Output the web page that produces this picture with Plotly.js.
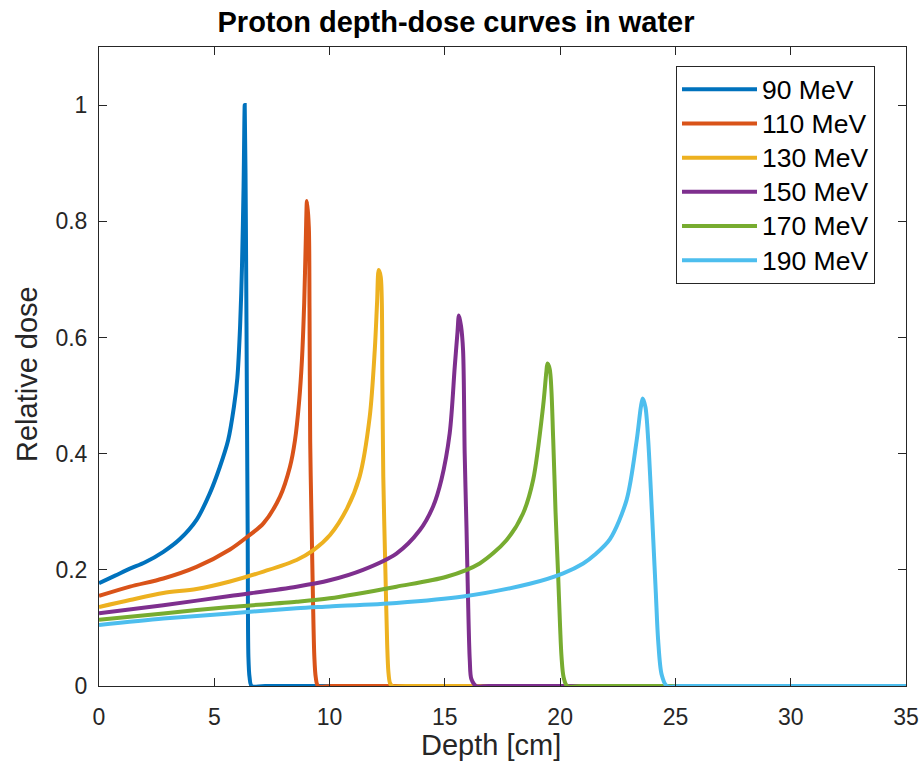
<!DOCTYPE html>
<html>
<head>
<meta charset="utf-8">
<script src="https://cdn.plot.ly/plotly-3.0.1.min.js"></script>
<style>html,body{margin:0;padding:0;background:#fff;}#chart{width:921px;height:761px;}</style>
</head>
<body>
<div id="chart"></div>
<script>
// Series names
const seriesNames = ['90 MeV', '110 MeV', '130 MeV', '150 MeV', '170 MeV', '190 MeV'];

// Depth [cm] and relative dose
const depth90 = [0, 0.7, 1.34, 2.0, 2.79, 3.51, 4.23, 4.81, 5.24, 5.6, 5.85, 6.0, 6.12, 6.2, 6.27, 6.32, 6.37, 6.42, 6.45, 6.48, 6.53, 6.62, 7.2, 35];
const dose90  = [0.177, 0.19, 0.202, 0.213, 0.231, 0.253, 0.286, 0.332, 0.377, 0.423, 0.48, 0.53, 0.62, 0.72, 0.86, 1.0, 0.8, 0.45, 0.25, 0.05, 0.015, 0, 0, 0];

const depth110 = [0, 1.34, 2.79, 4.23, 5.68, 6.47, 7.13, 7.85, 8.28, 8.5, 8.68, 8.8, 8.9, 8.97, 9.02, 9.1, 9.13, 9.16, 9.22, 9.28, 9.34, 9.4, 9.5, 10.1, 35];
const dose110  = [0.155, 0.171, 0.185, 0.205, 0.235, 0.258, 0.28, 0.326, 0.377, 0.423, 0.49, 0.56, 0.66, 0.77, 0.835, 0.79, 0.65, 0.42, 0.28, 0.15, 0.05, 0.015, 0, 0, 0];

const depth130 = [0, 1.34, 2.79, 4.23, 5.68, 7.13, 8.57, 9.3, 10.02, 10.75, 11.3, 11.74, 11.96, 12.06, 12.13, 12.22, 12.29, 12.33, 12.42, 12.5, 12.55, 12.62, 12.72, 13.3, 35];
const dose130  = [0.136, 0.148, 0.16, 0.167, 0.18, 0.197, 0.217, 0.234, 0.26, 0.305, 0.36, 0.463, 0.578, 0.66, 0.716, 0.704, 0.52, 0.36, 0.2, 0.07, 0.025, 0.005, 0, 0, 0];

const depth150 = [0, 2.79, 5.68, 8.57, 10.0, 11.45, 12.9, 13.91, 14.49, 14.85, 15.21, 15.43, 15.55, 15.61, 15.7, 15.79, 15.86, 15.94, 16.0, 16.08, 16.15, 16.35, 16.9, 35];
const dose150  = [0.125, 0.139, 0.155, 0.171, 0.182, 0.2, 0.228, 0.268, 0.309, 0.355, 0.435, 0.55, 0.61, 0.638, 0.62, 0.578, 0.40, 0.27, 0.16, 0.045, 0.012, 0, 0, 0];

const depth170 = [0, 2.79, 5.68, 8.57, 10.0, 12.9, 15.07, 16.51, 17.67, 18.39, 18.83, 19.26, 19.4, 19.45, 19.55, 19.7, 19.8, 19.91, 20.0, 20.06, 20.15, 20.3, 20.9, 35];
const dose170  = [0.114, 0.125, 0.136, 0.145, 0.151, 0.171, 0.188, 0.211, 0.251, 0.297, 0.355, 0.481, 0.54, 0.555, 0.545, 0.423, 0.3, 0.194, 0.1, 0.05, 0.015, 0, 0, 0];

const depth190 = [0, 2.79, 5.68, 8.57, 10.0, 12.9, 15.79, 18.68, 20.13, 21.0, 21.5, 22.16, 22.88, 23.32, 23.5, 23.58, 23.7, 23.82, 23.93, 24.04, 24.15, 24.25, 24.4, 24.62, 25.2, 35];
const dose190  = [0.105, 0.116, 0.125, 0.134, 0.137, 0.143, 0.154, 0.176, 0.194, 0.211, 0.226, 0.253, 0.32, 0.423, 0.48, 0.495, 0.48, 0.423, 0.34, 0.251, 0.16, 0.079, 0.02, 0, 0, 0];

// Axis ticks
const xTicks = [0, 5, 10, 15, 20, 25, 30, 35];
const yTickVals = [0, 0.2, 0.4, 0.6, 0.8, 1];
const yTickText = ['0', '0.2', '0.4', '0.6', '0.8', '1'];

const depths = [depth90, depth110, depth130, depth150, depth170, depth190];
const doses = [dose90, dose110, dose130, dose150, dose170, dose190];
const colors = ['#0072BD', '#D95319', '#EDB120', '#7E2F8E', '#77AC30', '#4DBEEE'];

const FONT = '"Liberation Sans", Arial, Helvetica, sans-serif';
const INK = '#262626';

const traces = seriesNames.map((name, i) => ({
  type: 'scatter',
  mode: 'lines',
  name: '<span style="font-size:26.5px">' + name + '</span>',
  x: depths[i],
  y: doses[i],
  line: {color: colors[i], width: 4, shape: 'spline', smoothing: 0.85}
}));

const axisCommon = {
  showline: true, linecolor: INK, linewidth: 1, mirror: 'ticks',
  ticks: 'inside', ticklen: 8, tickwidth: 1, tickcolor: INK,
  showgrid: false, zeroline: false,
  tickfont: {family: FONT, size: 23, color: INK},
  fixedrange: true
};

const layout = {
  width: 921, height: 761,
  margin: {l: 99, r: 15, t: 47, b: 75, pad: 0},
  paper_bgcolor: '#ffffff', plot_bgcolor: '#ffffff',
  title: {
    text: '<b>Proton depth-dose curves in water</b>',
    font: {family: FONT, size: 29, color: '#000000'},
    x: 456 / 921, xref: 'container', xanchor: 'center',
    y: 1 - 22 / 761, yref: 'container', yanchor: 'middle'
  },
  xaxis: Object.assign({}, axisCommon, {range: [0, 35], tickvals: xTicks, ticklabelstandoff: 10}),
  yaxis: Object.assign({}, axisCommon, {range: [0, 1.1], tickvals: yTickVals, ticktext: yTickText, ticklabelstandoff: 6}),
  showlegend: true,
  legend: {
    x: 0.715, y: 0.970, xanchor: 'left', yanchor: 'top',
    bgcolor: '#ffffff', bordercolor: INK, borderwidth: 1,
    font: {family: FONT, size: 24, color: '#000000'},
    itemwidth: 75
  },
  annotations: [
    {text: 'Depth [cm]', xref: 'paper', yref: 'paper', x: 0.4857, y: -0.093,
     xanchor: 'center', yanchor: 'middle', showarrow: false,
     font: {family: FONT, size: 29, color: INK}},
    {text: 'Relative dose', xref: 'paper', yref: 'paper', x: -0.0892, y: 0.4883,
     xanchor: 'center', yanchor: 'middle', showarrow: false, textangle: -90,
     font: {family: FONT, size: 29, color: INK}}
  ]
};

Plotly.newPlot('chart', traces, layout, {displayModeBar: false, staticPlot: true});
</script>
</body>
</html>
